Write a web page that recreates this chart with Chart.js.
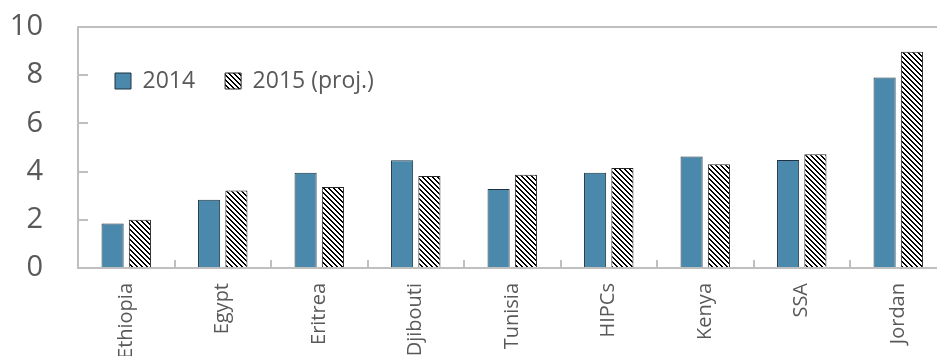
<!DOCTYPE html>
<html>
<head>
<meta charset="utf-8">
<script src="https://cdn.jsdelivr.net/npm/chart.js@4.4.1/dist/chart.umd.min.js"></script>
<style>
  html, body { margin: 0; padding: 0; background: #fff; overflow: hidden; }
  #wrap { position: absolute; left: 0; top: 0; width: 937px; height: 356px; overflow: hidden; }
  canvas { display: block; }
</style>
</head>
<body>
<div id="wrap"><canvas id="chart" width="950" height="356"></canvas></div>
<script>
// Countries / groups on the horizontal axis
const categories = ['Ethiopia', 'Egypt', 'Eritrea', 'Djibouti', 'Tunisia', 'HIPCs', 'Kenya', 'SSA', 'Jordan'];
// Values per series
const values2014 = [1.85, 2.83, 3.95, 4.47, 3.28, 3.95, 4.63, 4.48, 7.90];
const values2015 = [2.00, 3.22, 3.36, 3.82, 3.87, 4.15, 4.31, 4.72, 8.97];
const seriesNames = ['2014', '2015 (proj.)'];
// Value axis range
const yMin = 0, yMax = 10, yStep = 2;

const FONT = '"Open Sans", "Noto Sans", sans-serif';
const TEXT = '#595959';
const AXIS = '#bfbfbf';

// Diagonal hatch fill (black "\" stripes on white)
function makeHatch() {
  const n = 5;
  const c = document.createElement('canvas');
  c.width = n; c.height = n;
  const g = c.getContext('2d');
  const img = g.createImageData(n, n);
  for (let y = 0; y < n; y++) {
    for (let x = 0; x < n; x++) {
      const on = ((x - y) % n + n) % n < 2;
      const i = (y * n + x) * 4;
      const v = on ? 0 : 255;
      img.data[i] = v; img.data[i + 1] = v; img.data[i + 2] = v; img.data[i + 3] = 255;
    }
  }
  g.putImageData(img, 0, 0);
  return g.createPattern(c, 'repeat');
}

// Puts the legend inside the plot area, top-left
const legendInside = {
  id: 'legendInside',
  afterLayout(chart) {
    const lg = chart.legend;
    if (!lg) return;
    lg.left = 85; lg.right = 720;
    lg.top = 39.5; lg.bottom = 140;
  }
};

new Chart(document.getElementById('chart'), {
  type: 'bar',
  data: {
    labels: categories,
    datasets: [
      {
        label: seriesNames[0],
        data: values2014,
        backgroundColor: '#4a89ab',
        borderColor: '#1d3340',
        borderWidth: 1,
        categoryPercentage: 0.566,
        barPercentage: 0.81
      },
      {
        label: seriesNames[1],
        data: values2015,
        backgroundColor: makeHatch(),
        borderColor: '#262626',
        borderWidth: 1,
        categoryPercentage: 0.566,
        barPercentage: 0.81
      }
    ]
  },
  options: {
    responsive: false,
    animation: false,
    layout: { padding: { left: 0, top: 26, right: 3.5, bottom: 0 } },
    plugins: {
      tooltip: { enabled: false },
      legend: {
        position: 'top',
        align: 'start',
        maxHeight: 1,
        labels: {
          boxWidth: 16,
          boxHeight: 16,
          padding: 30,
          color: TEXT,
          font: { family: FONT, size: 23 }
        }
      }
    },
    scales: {
      x: {
        type: 'category',
        position: 'bottom',
        grid: { offset: true, drawOnChartArea: false, tickLength: -8, color: AXIS, lineWidth: 2 },
        border: { color: AXIS, width: 2 },
        ticks: {
          minRotation: 90, maxRotation: 90, autoSkip: false,
          padding: 23, color: TEXT, font: { family: FONT, size: 20 }
        },
        afterFit(s) { s.height = 88; }
      },
      x2: {
        type: 'category',
        position: 'top',
        grid: { display: false, drawTicks: false },
        border: { color: AXIS, width: 2 },
        ticks: { display: false },
        afterFit(s) { s.height = 0; }
      },
      y: {
        min: yMin, max: yMax,
        ticks: { stepSize: yStep, padding: 45, color: TEXT, font: { family: FONT, size: 29 } },
        grid: { drawOnChartArea: false, tickLength: -10, color: AXIS, lineWidth: 2 },
        border: { color: AXIS, width: 2 },
        afterFit(s) { s.width = 78; s.paddingTop = 0; s.paddingBottom = 0; }
      }
    }
  },
  plugins: [legendInside]
});
</script>
</body>
</html>
